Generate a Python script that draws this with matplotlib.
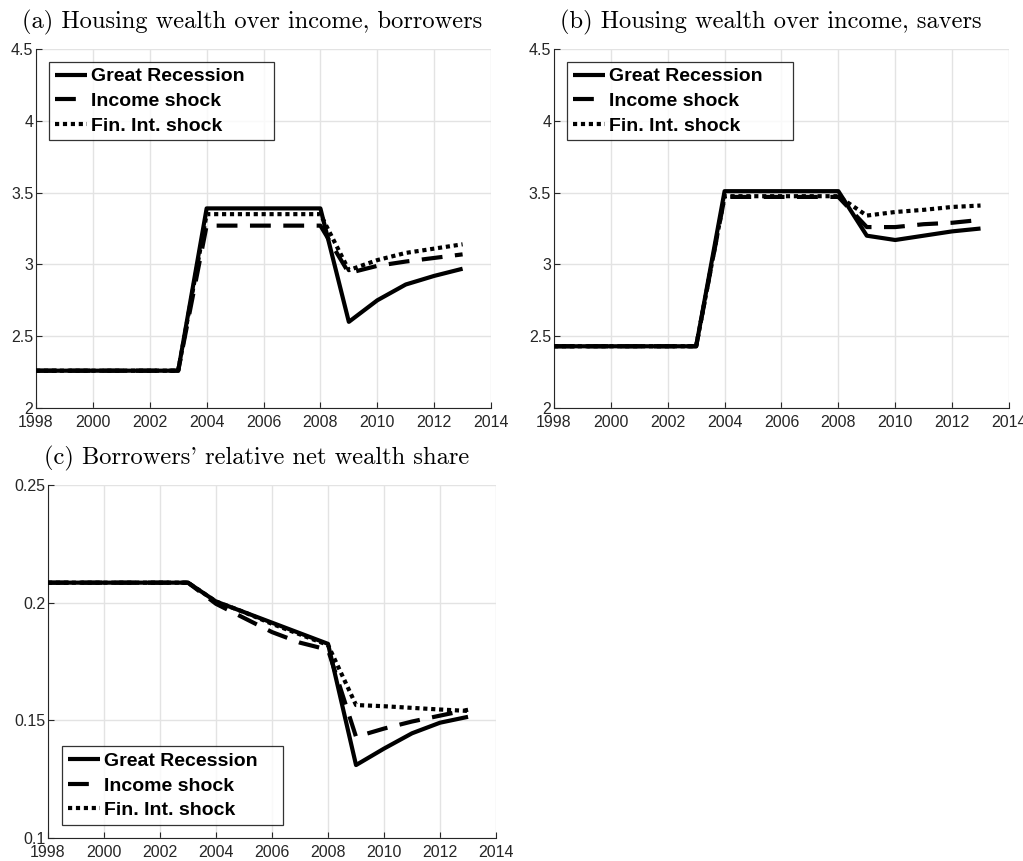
import matplotlib
matplotlib.use("Agg")
import matplotlib.pyplot as plt
from matplotlib.ticker import FuncFormatter

years = [1998, 1999, 2000, 2001, 2002, 2003, 2004, 2005, 2006, 2007, 2008,
         2009, 2010, 2011, 2012, 2013]

# (a) Housing wealth over income, borrowers
a_great = [2.26, 2.26, 2.26, 2.26, 2.26, 2.26, 3.39, 3.39, 3.39, 3.39, 3.39,
           2.60, 2.75, 2.86, 2.92, 2.97]
a_income = [2.26, 2.26, 2.26, 2.26, 2.26, 2.26, 3.27, 3.27, 3.27, 3.27, 3.27,
            2.94, 2.99, 3.02, 3.045, 3.07]
a_finint = [2.26, 2.26, 2.26, 2.26, 2.26, 2.26, 3.35, 3.35, 3.35, 3.35, 3.35,
            2.96, 3.03, 3.08, 3.11, 3.14]

# (b) Housing wealth over income, savers
b_great = [2.43, 2.43, 2.43, 2.43, 2.43, 2.43, 3.51, 3.51, 3.51, 3.51, 3.51,
           3.20, 3.17, 3.20, 3.23, 3.25]
b_income = [2.43, 2.43, 2.43, 2.43, 2.43, 2.43, 3.47, 3.47, 3.47, 3.47, 3.47,
            3.26, 3.26, 3.28, 3.29, 3.31]
b_finint = [2.43, 2.43, 2.43, 2.43, 2.43, 2.43, 3.475, 3.475, 3.475, 3.475, 3.475,
            3.34, 3.365, 3.38, 3.40, 3.41]

# (c) Borrowers' relative net wealth share
c_great = [0.2085, 0.2085, 0.2085, 0.2085, 0.2085, 0.2085, 0.2005, 0.1960, 0.1915,
           0.1870, 0.1825, 0.1310, 0.1380, 0.1445, 0.1490, 0.1515]
c_income = [0.2085, 0.2085, 0.2085, 0.2085, 0.2085, 0.2085, 0.1995, 0.1935, 0.1875,
            0.1830, 0.1800, 0.1430, 0.1465, 0.1495, 0.1520, 0.1545]
c_finint = [0.2085, 0.2085, 0.2085, 0.2085, 0.2085, 0.2085, 0.2005, 0.1960, 0.1910,
            0.1865, 0.1820, 0.1565, 0.1560, 0.1553, 0.1546, 0.1540]

series_names = ["Great Recession", "Income shock", "Fin. Int. shock"]
titles = ["(a) Housing wealth over income, borrowers",
          "(b) Housing wealth over income, savers",
          "(c) Borrowers' relative net wealth share"]

x_ticks = [1998, 2000, 2002, 2004, 2006, 2008, 2010, 2012, 2014]
y_ticks_ab = [2, 2.5, 3, 3.5, 4, 4.5]
y_ticks_c = [0.1, 0.15, 0.2, 0.25]

axis_gray = "#262626"
styles = [
    dict(linestyle="-", linewidth=3.0, solid_capstyle="butt"),
    dict(linestyle=(0, (5.0, 3.0)), linewidth=3.0, dash_capstyle="butt"),
    dict(linestyle=(0, (1.0, 0.9)), linewidth=3.0, dash_capstyle="butt"),
]

fig = plt.figure(figsize=(10.23, 8.61), dpi=100)
fig.patch.set_facecolor("white")

positions = [
    [0.0352, 0.5261, 0.4448, 0.4170],
    [0.5415, 0.5261, 0.4448, 0.4170],
    [0.0469, 0.0267, 0.4380, 0.4100],
]
panels = [
    (a_great, a_income, a_finint, (2, 4.5), y_ticks_ab),
    (b_great, b_income, b_finint, (2, 4.5), y_ticks_ab),
    (c_great, c_income, c_finint, (0.1, 0.25), y_ticks_c),
]
legend_spec = [
    dict(loc="upper left", bbox_to_anchor=(0.0286, 0.747, 0.4945, 0.217)),
    dict(loc="upper left", bbox_to_anchor=(0.0286, 0.747, 0.4970, 0.217)),
    dict(loc="lower left", bbox_to_anchor=(0.031, 0.037, 0.493, 0.215)),
]
title_x = [0.476, 0.476, 0.4665]

for pos, (gr, inc, fin, ylim, yticks), title, lspec, tx in zip(
        positions, panels, titles, legend_spec, title_x):
    ax = fig.add_axes(pos)
    lines = []
    for data, name, st in zip([gr, inc, fin], series_names, styles):
        ln, = ax.plot(years, data, color="black", label=name, **st)
        lines.append(ln)
    # keep the solid line on top of the dashed and dotted ones
    lines[0].set_zorder(4)
    lines[1].set_zorder(3)
    lines[2].set_zorder(3.5)

    ax.set_xlim(1998, 2014)
    ax.set_ylim(*ylim)
    ax.set_xticks(x_ticks)
    ax.set_yticks(yticks)
    ax.yaxis.set_major_formatter(FuncFormatter(lambda v, p: "%g" % v))
    ax.grid(True, color="#e3e3e3", linewidth=1.0)
    ax.set_axisbelow(True)
    for side in ("top", "right"):
        ax.spines[side].set_visible(False)
    for side in ("left", "bottom"):
        ax.spines[side].set_color(axis_gray)
        ax.spines[side].set_linewidth(0.8)
    ax.tick_params(direction="in", length=4, width=0.8, colors=axis_gray,
                   labelsize=11.5)
    ax.tick_params(axis="x", pad=5)
    ax.tick_params(axis="y", pad=2)
    for lab in ax.get_xticklabels() + ax.get_yticklabels():
        lab.set_fontfamily("Liberation Sans")

    leg = ax.legend(frameon=True, fancybox=False, edgecolor="black",
                    prop=dict(family="Liberation Sans", weight="bold", size=14),
                    handlelength=1.65, handletextpad=0.2, labelspacing=0.36,
                    borderpad=0.3, borderaxespad=0.0, mode="expand", **lspec)
    leg.get_frame().set_linewidth(0.9)
    leg.set_zorder(10)

    ax.set_title(title, fontfamily="cmr10", fontsize=17.6, pad=15,
                 color="black", x=tx)

fig.savefig("out.png", dpi=100, facecolor="white")
